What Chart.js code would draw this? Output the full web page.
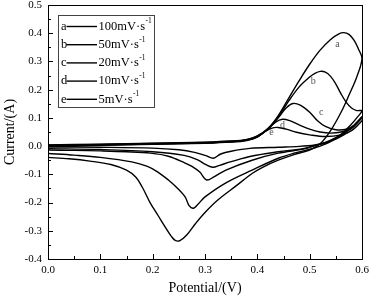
<!DOCTYPE html>
<html><head><meta charset="utf-8">
<script src="https://cdn.jsdelivr.net/npm/chart.js@4"></script>
<style>html,body{margin:0;padding:0;background:#fff}#wrap{width:370px;height:298px}</style>
</head><body><div id="wrap"><canvas id="c" width="370" height="298"></canvas></div>
<script>
// Series letters and scan-rate labels
const seriesLetters = ['a', 'b', 'c', 'd', 'e'];
const rateLabels = ['100mV·s', '50mV·s', '20mV·s', '10mV·s', '5mV·s'];
const rateSup = '-1';

// Axis ticks
const xTicks = [0.0, 0.1, 0.2, 0.3, 0.4, 0.5, 0.6];
const yTicks = [-0.4, -0.3, -0.2, -0.1, 0.0, 0.1, 0.2, 0.3, 0.4, 0.5];

// a: 100 mV/s (forward sweep then reverse sweep)
const potA = [0, 0.1, 0.2, 0.3, 0.35, 0.38, 0.40, 0.42, 0.44, 0.46, 0.48, 0.50, 0.52, 0.54, 0.555, 0.565, 0.575, 0.585, 0.593, 0.6,
  0.59, 0.575, 0.56, 0.54, 0.52, 0.50, 0.47, 0.44, 0.41, 0.39, 0.36, 0.325, 0.30, 0.282, 0.265, 0.252, 0.243, 0.235, 0.225, 0.21, 0.195, 0.18, 0.168, 0.15, 0.12, 0.08, 0.04, 0];
const curA = [0.004, 0.007, 0.01, 0.014, 0.018, 0.024, 0.036, 0.062, 0.108, 0.17, 0.232, 0.29, 0.34, 0.378, 0.397, 0.402, 0.396, 0.375, 0.345, 0.31,
  0.245, 0.18, 0.12, 0.055, 0.008, -0.014, -0.03, -0.05, -0.075, -0.097, -0.14, -0.19, -0.235, -0.274, -0.315, -0.335, -0.334, -0.318, -0.29, -0.245, -0.2, -0.145, -0.11, -0.085, -0.065, -0.053, -0.045, -0.04];

// b: 50 mV/s
const potB = [0, 0.1, 0.2, 0.3, 0.35, 0.38, 0.40, 0.42, 0.44, 0.46, 0.48, 0.50, 0.51, 0.52, 0.53, 0.54, 0.55, 0.56, 0.57, 0.58, 0.59, 0.6,
  0.59, 0.58, 0.56, 0.54, 0.52, 0.497, 0.47, 0.44, 0.39, 0.34, 0.30, 0.287, 0.278, 0.27, 0.262, 0.245, 0.23, 0.21, 0.19, 0.16, 0.1, 0.05, 0];
const curB = [0.003, 0.006, 0.009, 0.013, 0.017, 0.023, 0.035, 0.06, 0.103, 0.16, 0.21, 0.245, 0.258, 0.265, 0.262, 0.247, 0.22, 0.185, 0.155, 0.135, 0.126, 0.125,
  0.1, 0.078, 0.042, 0.016, 0.0, -0.013, -0.025, -0.043, -0.085, -0.13, -0.18, -0.205, -0.22, -0.212, -0.18, -0.145, -0.12, -0.092, -0.072, -0.056, -0.04, -0.032, -0.026];

// c: 20 mV/s
const potC = [0, 0.1, 0.2, 0.3, 0.35, 0.38, 0.40, 0.42, 0.44, 0.455, 0.468, 0.482, 0.50, 0.515, 0.53, 0.55, 0.57, 0.585, 0.6,
  0.585, 0.57, 0.55, 0.53, 0.51, 0.49, 0.44, 0.39, 0.34, 0.318, 0.303, 0.29, 0.275, 0.262, 0.23, 0.196, 0.15, 0.1, 0.05, 0];
const curC = [0.002, 0.005, 0.008, 0.012, 0.016, 0.022, 0.034, 0.06, 0.1, 0.135, 0.151, 0.145, 0.12, 0.09, 0.07, 0.058, 0.06, 0.075, 0.105,
  0.075, 0.052, 0.03, 0.013, 0.002, -0.01, -0.025, -0.05, -0.085, -0.108, -0.12, -0.092, -0.072, -0.06, -0.036, -0.025, -0.02, -0.017, -0.015, -0.014];

// d: 10 mV/s
const potD = [0, 0.1, 0.2, 0.3, 0.35, 0.38, 0.40, 0.42, 0.435, 0.448, 0.462, 0.48, 0.50, 0.52, 0.54, 0.56, 0.58, 0.6,
  0.585, 0.57, 0.55, 0.53, 0.51, 0.49, 0.44, 0.39, 0.35, 0.328, 0.315, 0.302, 0.285, 0.26, 0.2, 0.1, 0];
const curD = [0.001, 0.004, 0.007, 0.011, 0.015, 0.021, 0.033, 0.06, 0.085, 0.095, 0.09, 0.075, 0.06, 0.05, 0.046, 0.05, 0.065, 0.1,
  0.07, 0.05, 0.028, 0.012, 0.002, -0.008, -0.02, -0.035, -0.055, -0.068, -0.075, -0.066, -0.048, -0.033, -0.02, -0.012, -0.009];

// e: 5 mV/s
const potE = [0, 0.1, 0.2, 0.3, 0.35, 0.38, 0.40, 0.415, 0.428, 0.44, 0.455, 0.475, 0.50, 0.53, 0.56, 0.58, 0.6,
  0.585, 0.57, 0.55, 0.53, 0.51, 0.48, 0.44, 0.386, 0.35, 0.33, 0.316, 0.302, 0.28, 0.25, 0.2, 0.1, 0];
const curE = [0.0, 0.003, 0.006, 0.01, 0.014, 0.02, 0.032, 0.052, 0.064, 0.066, 0.06, 0.049, 0.04, 0.034, 0.04, 0.055, 0.09,
  0.062, 0.045, 0.025, 0.012, 0.004, -0.001, -0.004, -0.008, -0.018, -0.028, -0.043, -0.034, -0.022, -0.013, -0.007, -0.004, -0.003];

// Curve label anchor positions (data coordinates)
const labelPot = [0.553, 0.507, 0.522, 0.448, 0.427];
const labelCur = [0.36, 0.23, 0.12, 0.075, 0.047];

const pots = [potA, potB, potC, potD, potE];
const curs = [curA, curB, curC, curD, curE];

const serif = "'Liberation Serif', 'Times New Roman', serif";

const datasets = pots.map((p, i) => ({
  label: seriesLetters[i],
  data: p.map((x, j) => ({ x: x, y: curs[i][j] })),
  showLine: true,
  borderColor: '#000',
  borderWidth: 1.4,
  pointRadius: 0,
  tension: 0.35,
  fill: false
}));

const framePlugin = {
  id: 'frame',
  afterDraw(chart) {
    const ctx = chart.ctx;
    const a = chart.chartArea;
    const xs = chart.scales.x, ys = chart.scales.y;
    ctx.save();
    ctx.strokeStyle = '#000';
    ctx.lineWidth = 1;
    ctx.strokeRect(Math.round(a.left) + 0.5, Math.round(a.top) + 0.5, Math.round(a.right - a.left), Math.round(a.bottom - a.top));
    // inward ticks on bottom axis
    ctx.beginPath();
    for (let v = 0; v <= 0.6001; v += 0.05) {
      const px = Math.round(xs.getPixelForValue(v)) + 0.5;
      const major = Math.abs(v * 10 - Math.round(v * 10)) < 1e-6;
      const len = major ? 5 : 3;
      ctx.moveTo(px, a.bottom);
      ctx.lineTo(px, a.bottom - len);
    }
    // inward ticks on left axis
    for (let v = -0.4; v <= 0.5001; v += 0.05) {
      const py = Math.round(ys.getPixelForValue(v)) + 0.5;
      const major = Math.abs(v * 10 - Math.round(v * 10)) < 1e-6;
      const len = major ? 5 : 3;
      ctx.moveTo(a.left, py);
      ctx.lineTo(a.left + len, py);
    }
    ctx.stroke();

    // curve letters
    ctx.fillStyle = '#555';
    ctx.font = '10px ' + serif;
    ctx.textAlign = 'center';
    ctx.textBaseline = 'middle';
    seriesLetters.forEach((l, i) => {
      ctx.fillText(l, xs.getPixelForValue(labelPot[i]), ys.getPixelForValue(labelCur[i]));
    });

    // legend box
    ctx.strokeStyle = '#444';
    ctx.strokeRect(58.5, 15.5, 96, 92);
    ctx.fillStyle = '#000';
    ctx.textAlign = 'left';
    rateLabels.forEach((t, i) => {
      const y = 26.5 + i * 18.2;
      ctx.font = '12.5px ' + serif;
      ctx.textBaseline = 'middle';
      ctx.fillText(seriesLetters[i], 61, y);
      ctx.beginPath();
      ctx.strokeStyle = '#000';
      ctx.lineWidth = 1.4;
      ctx.moveTo(66.5, y);
      ctx.lineTo(97, y);
      ctx.stroke();
      ctx.fillText(t, 98.5, y);
      const w = ctx.measureText(t).width;
      ctx.font = '7.5px ' + serif;
      ctx.fillText(rateSup, 98.5 + w + 0.5, y - 5);
    });
    ctx.restore();
  }
};

new Chart(document.getElementById('c'), {
  type: 'scatter',
  data: { datasets: datasets },
  options: {
    responsive: false,
    animation: false,
    devicePixelRatio: 1,
    layout: { padding: { left: 0, top: 5, right: 8, bottom: 0 } },
    plugins: { legend: { display: false }, tooltip: { enabled: false } },
    scales: {
      x: {
        type: 'linear', min: 0, max: 0.6,
        afterBuildTicks(s) { s.ticks = xTicks.map(v => ({ value: v })); },
        afterFit(s) { s.height = 39; s.paddingLeft = 0; s.paddingRight = 0; },
        grid: { display: false, drawTicks: false },
        border: { display: false },
        ticks: { padding: 5, color: '#000', font: { family: serif, size: 11 }, maxRotation: 0,
          callback: v => Number(v).toFixed(1) },
        title: { display: true, text: 'Potential/(V)', color: '#000', font: { family: serif, size: 14 }, padding: { top: 0, bottom: 1 } }
      },
      y: {
        type: 'linear', min: -0.4, max: 0.5,
        afterBuildTicks(s) { s.ticks = yTicks.map(v => ({ value: v })); },
        afterFit(s) { s.width = 48; s.paddingTop = 0; s.paddingBottom = 0; },
        grid: { display: false, drawTicks: false },
        border: { display: false },
        ticks: { padding: 6, color: '#000', font: { family: serif, size: 11 },
          callback: v => Number(v).toFixed(1) },
        title: { display: true, text: 'Current/(A)', color: '#000', font: { family: serif, size: 14 }, padding: { top: 2, bottom: 0 } }
      }
    }
  },
  plugins: [framePlugin]
});
</script></body></html>
